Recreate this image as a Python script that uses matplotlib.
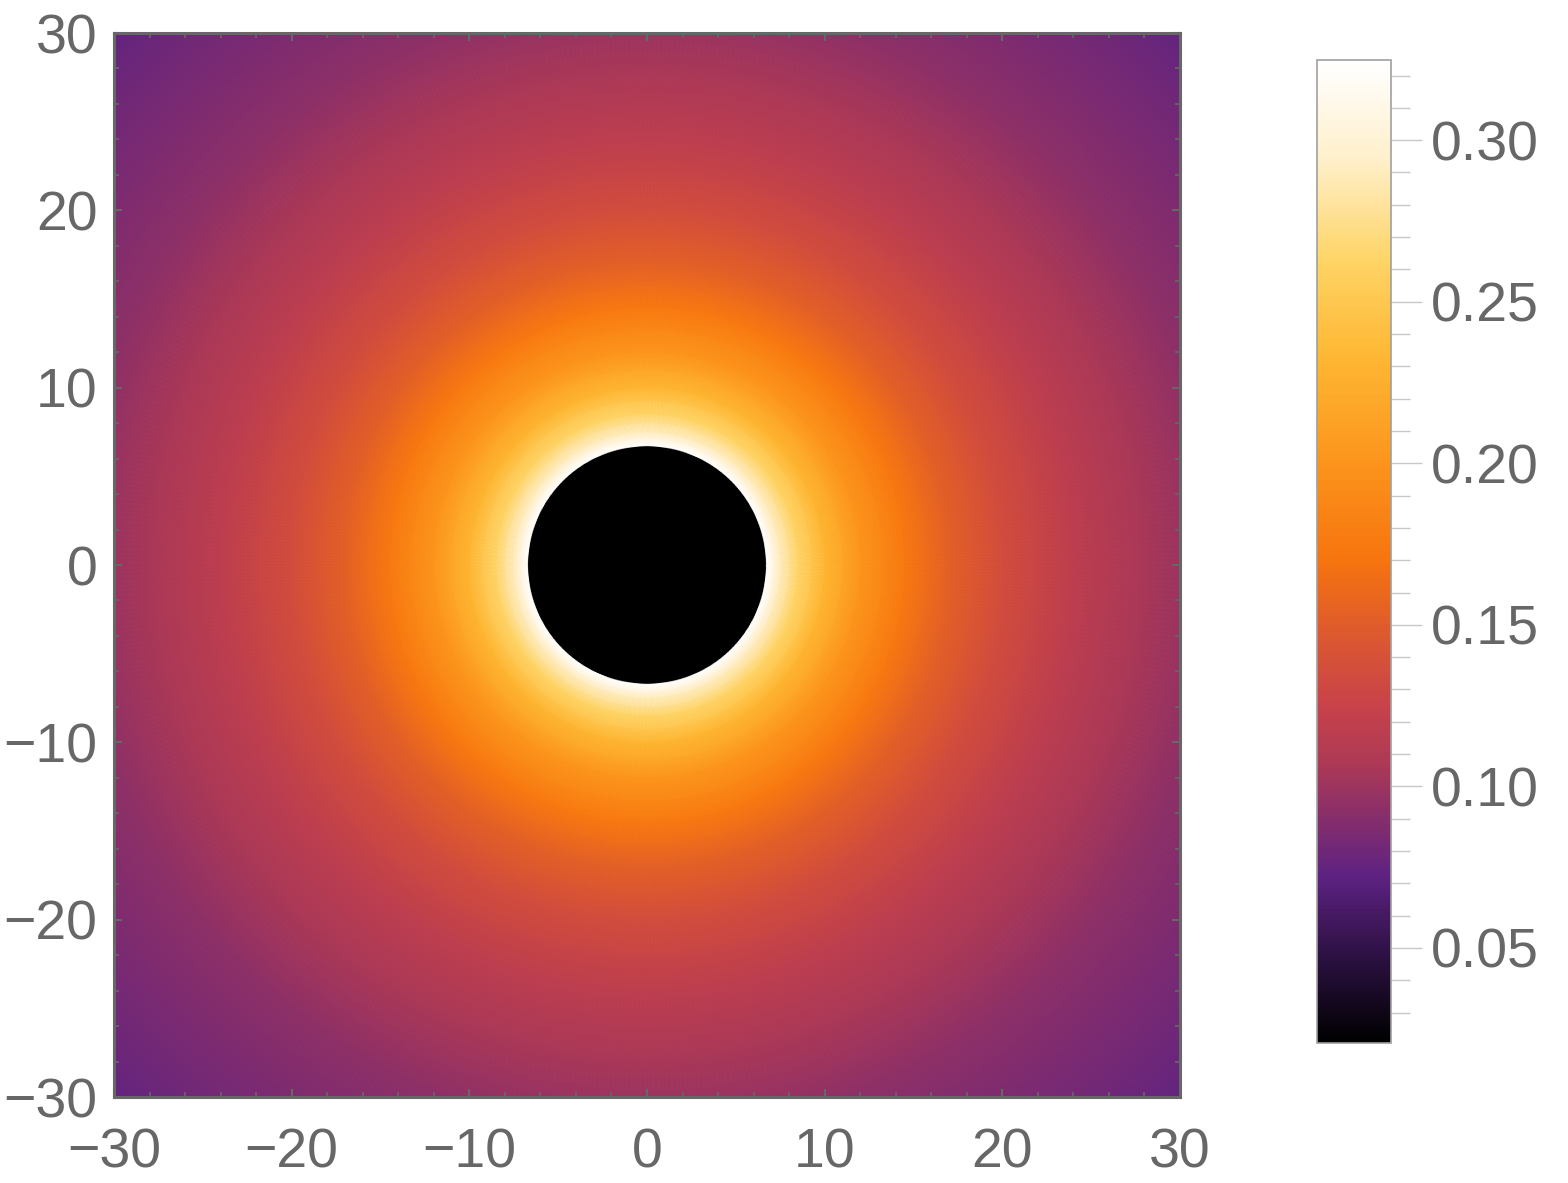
import numpy as np
import matplotlib
matplotlib.use('Agg')
import matplotlib.pyplot as plt
from matplotlib.colors import LinearSegmentedColormap, Normalize
from matplotlib.cm import ScalarMappable
from matplotlib.ticker import MultipleLocator, FixedLocator

# colour scale (value -> colour)
cmap_values = [0.0206, 0.046, 0.072, 0.108, 0.125, 0.150, 0.170, 0.201, 0.232, 0.263, 0.295, 0.3248]
cmap_colors = ['#000000', '#2a1040', '#5e2282', '#af3a55', '#c8424a', '#e05c2b',
               '#f7740f', '#fc951c', '#feb632', '#fed465', '#fff0cc', '#ffffff']

# radial profile of the field (radius -> value), black disk inside the hole
radius = [0.0, 6.70, 6.72, 7.5, 8.5, 10.0, 12.0, 14.5, 17.0, 20.0, 24.0, 28.0, 32.0, 36.0, 40.0, 43.0]
value = [0.0206, 0.0206, 0.3248, 0.290, 0.264, 0.232, 0.201, 0.174, 0.153, 0.135, 0.118, 0.105, 0.094, 0.086, 0.079, 0.073]

axis_ticks = [-30, -20, -10, 0, 10, 20, 30]
cbar_ticks = [0.05, 0.10, 0.15, 0.20, 0.25, 0.30]

vmin, vmax = cmap_values[0], cmap_values[-1]
stops = [(v - vmin) / (vmax - vmin) for v in cmap_values]
cmap = LinearSegmentedColormap.from_list('sunset', list(zip(stops, cmap_colors)))
norm = Normalize(vmin=vmin, vmax=vmax)

plt.rcParams['font.family'] = ['Liberation Sans', 'DejaVu Sans']
gray = '#676767'

fig = plt.figure(figsize=(15.68, 11.83), dpi=100)
ax = fig.add_axes([114 / 1568, 86 / 1183, 1066 / 1568, 1064 / 1183])

# polar mesh; gouraud shading blends between the rings
theta = np.linspace(0, 2 * np.pi, 721)
R, T = np.meshgrid(np.array(radius), theta)
X = R * np.cos(T)
Y = R * np.sin(T)
C = np.tile(np.array(value), (len(theta), 1))
ax.pcolormesh(X, Y, C, shading='gouraud', cmap=cmap, norm=norm, rasterized=True)

ax.set_xlim(-30, 30)
ax.set_ylim(-30, 30)
ax.set_xticks(axis_ticks)
ax.set_yticks(axis_ticks)
ax.xaxis.set_minor_locator(MultipleLocator(2))
ax.yaxis.set_minor_locator(MultipleLocator(2))
ax.set_xticklabels([str(t).replace('-', '\u2212') for t in axis_ticks])
ax.set_yticklabels([str(t).replace('-', '\u2212') for t in axis_ticks])
ax.tick_params(which='both', direction='in', top=True, right=True, colors=gray,
               labelsize=40, labelcolor=gray)
ax.tick_params(which='major', length=6, width=1.5)
ax.tick_params(which='minor', length=3.5, width=1.2)
ax.tick_params(axis='x', pad=22)
ax.tick_params(axis='y', pad=12)
for s in ax.spines.values():
    s.set_color(gray)
    s.set_linewidth(2.2)

# colour bar
cax = fig.add_axes([1317 / 1568, 140 / 1183, 74 / 1568, 983 / 1183])
cb = fig.colorbar(ScalarMappable(norm=norm, cmap=cmap), cax=cax)
cb.set_ticks(cbar_ticks)
cb.set_ticklabels(['%.2f' % t for t in cbar_ticks])
cb.ax.yaxis.set_minor_locator(FixedLocator(np.arange(0.03, 0.33, 0.01)))
cb.outline.set_edgecolor('#a0a0a0')
cb.outline.set_linewidth(1.2)
cb.ax.tick_params(which='major', length=22, width=1, color='#c8c8c8', labelsize=40,
                  labelcolor=gray, pad=7)
cb.ax.tick_params(which='minor', length=14, width=1, color='#c8c8c8')

fig.savefig('out.png', dpi=100)
